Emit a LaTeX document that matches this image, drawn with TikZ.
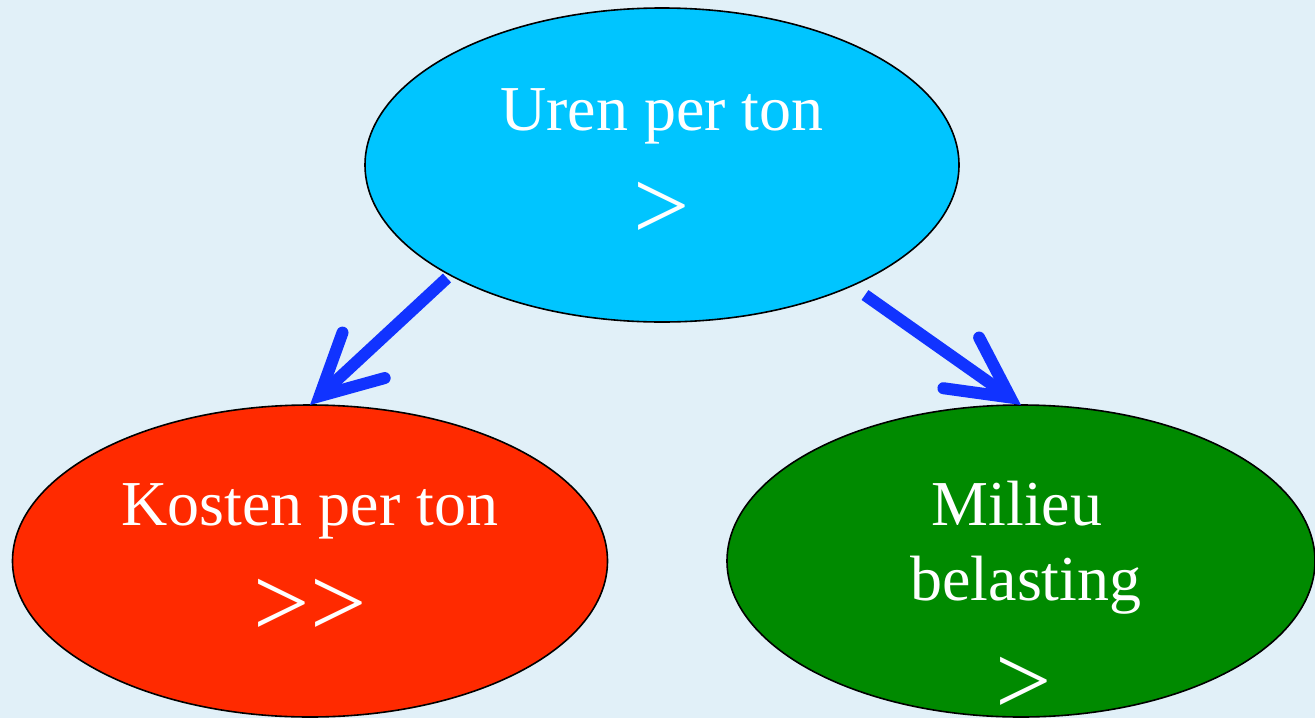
\documentclass[tikz,border=0pt]{standalone}
\usepackage{fontspec}
\setmainfont{Liberation Serif}
\usetikzlibrary{shapes.geometric,arrows.meta}
\definecolor{bgc}{RGB}{225,240,248}
\definecolor{cyanc}{RGB}{0,197,255}
\definecolor{redc}{RGB}{255,42,0}
\definecolor{greenc}{RGB}{0,138,0}
\definecolor{bluec}{RGB}{17,51,255}
\tikzset{
  oval/.style={ellipse, draw=black, line width=1.6pt, inner sep=0pt, outer sep=0pt},
  lbl/.style={anchor=base, text=white, inner sep=0pt, font=\fontsize{64}{76}\selectfont},
  gt/.style={anchor=base, text=white, inner sep=0pt, text depth=0pt, font=\fontsize{100}{110}\selectfont},
  arr/.style={draw=bluec, line width=12pt, -{Straight Barb[length=60pt, width=62pt, line cap=round, line join=miter]}}
}
\begin{document}
\begin{tikzpicture}[x=1pt, y=-1pt]
\useasboundingbox (0,0) rectangle (1315,718);
\fill[bgc] (0,0) rectangle (1315,718);
\node[oval, fill=cyanc, minimum width=594pt, minimum height=314pt] (uren) at (662,165) {};
\node[oval, fill=redc, minimum width=595pt, minimum height=312pt] (kosten) at (310,561) {};
\node[oval, fill=greenc, minimum width=588pt, minimum height=312pt] (milieu) at (1021,561) {};
\node[lbl] (t1) at (662,130) {Uren per ton};
\node[gt] (g1) at (662,239) {>};
\node[lbl] (t2) at (310,525) {Kosten per ton};
\node[gt] (g2) at (310,636) {>{}>};
\node[lbl] (t3) at (1017,525) {Milieu};
\node[lbl] (t4) at (1026,600) {belasting};
\node[gt] (g3) at (1024,714) {>};
\coordinate (s1) at (447,278);
\coordinate (s2) at (865,295);
\draw[arr] (s1) -- (kosten.north);
\draw[arr] (s2) -- (milieu.north);
\end{tikzpicture}
\end{document}
